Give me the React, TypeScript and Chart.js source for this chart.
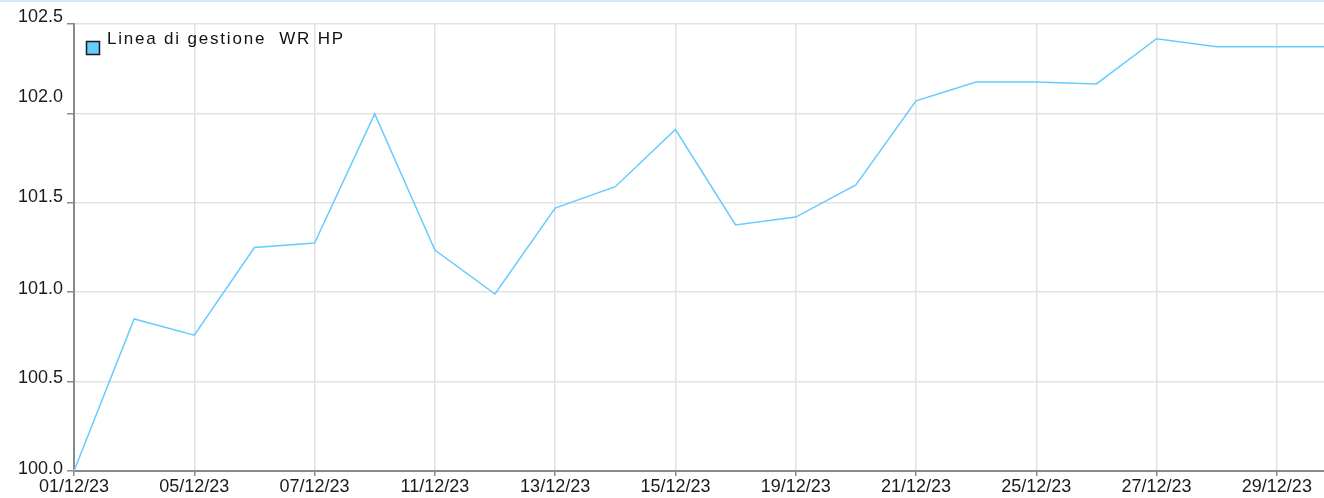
import React, { useEffect, useRef } from "react";
import { Chart, registerables } from "chart.js";

Chart.register(...registerables);

const dates = [
  "01/12/23", "04/12/23", "05/12/23", "06/12/23", "07/12/23", "08/12/23",
  "11/12/23", "12/12/23", "13/12/23", "14/12/23", "15/12/23", "18/12/23",
  "19/12/23", "20/12/23", "21/12/23", "22/12/23", "25/12/23", "26/12/23",
  "27/12/23", "28/12/23", "29/12/23", "31/12/23",
];

const values = [
  100.0, 100.85, 100.76, 101.25, 101.275, 101.997,
  101.236, 100.99, 101.47, 101.59, 101.91, 101.376,
  101.42, 101.6, 102.07, 102.175, 102.175, 102.165,
  102.418, 102.373, 102.373, 102.373,
];

const seriesName = "Linea di gestione  WR HP";
const yTicks = [100.0, 100.5, 101.0, 101.5, 102.0, 102.5];
const lineColor = "#66ccff";

// vertical nudge (px) of each y tick label above its grid line
const yLabelLift: Record<string, number> = {
  "100.0": 2, "100.5": 4, "101.0": 3, "101.5": 5.5, "102.0": 16, "102.5": 6.5,
};

const legendPlugin = {
  id: "customLegend",
  afterDraw(chart: any) {
    const ctx = chart.ctx;
    const area = chart.chartArea;
    ctx.save();
    const bx = area.left + 12.5;
    const by = area.top + 17.5;
    ctx.fillStyle = lineColor;
    ctx.fillRect(bx, by, 13, 13);
    ctx.strokeStyle = "#1a1a1a";
    ctx.lineWidth = 1.5;
    ctx.strokeRect(bx, by, 13, 13);
    ctx.fillStyle = "#111";
    ctx.font = "17px 'Liberation Sans', Arial, sans-serif";
    (ctx as any).letterSpacing = "1.8px";
    ctx.textBaseline = "alphabetic";
    ctx.textAlign = "left";
    ctx.fillText(seriesName, area.left + 33, area.top + 20);
    ctx.restore();
  },
};

export default function App() {
  const canvasRef = useRef<HTMLCanvasElement | null>(null);

  useEffect(() => {
    if (!canvasRef.current) return;
    const tickFont = "'Liberation Sans', Arial, sans-serif";
    const chart = new Chart(canvasRef.current, {
      type: "line",
      data: {
        labels: dates,
        datasets: [
          {
            label: seriesName,
            data: values,
            borderColor: lineColor,
            backgroundColor: lineColor,
            borderWidth: 1.5,
            pointRadius: 0,
            pointHoverRadius: 0,
            tension: 0,
            fill: false,
          },
        ],
      },
      options: {
        responsive: false,
        animation: false,
        events: [],
        layout: { padding: { top: 24, left: 0, right: 0, bottom: 0 } },
        plugins: {
          legend: { display: false },
          tooltip: { enabled: false },
          title: { display: false },
        },
        scales: {
          x: {
            type: "category",
            offset: false,
            border: { display: true, color: "#8a8a8a", width: 2 },
            grid: {
              color: "#e2e2e2",
              lineWidth: 1.5,
              tickColor: "#8a8a8a",
              tickLength: 5,
              drawTicks: true,
            },
            ticks: {
              autoSkip: false,
              maxRotation: 0,
              minRotation: 0,
              padding: 0,
              color: "#1a1a1a",
              font: { family: tickFont, size: 18, lineHeight: 1.2 },
              callback: (_v: any, i: number) => (i % 2 === 0 && i < 21 ? dates[i] : null),
            },
            afterFit: (scale: any) => {
              scale.height = 27;
            },
          },
          y: {
            min: 100,
            max: 102.5,
            border: { display: true, color: "#8a8a8a", width: 2 },
            grid: {
              color: "#e2e2e2",
              lineWidth: 1.5,
              tickColor: "#8a8a8a",
              tickLength: 7,
            },
            afterBuildTicks: (scale: any) => {
              scale.ticks = yTicks.map((v) => ({ value: v }));
            },
            ticks: {
              padding: 4,
              color: "#1a1a1a",
              font: (c: any) => {
                const v = c.tick ? Number(c.tick.value).toFixed(1) : "100.0";
                const lift = yLabelLift[v] ?? 0;
                return { family: tickFont, size: 18, lineHeight: `${Math.max(lift * 2, 1)}px` };
              },
              callback: (v: any) => [Number(v).toFixed(1), ""],
            },
            afterFit: (scale: any) => {
              scale.width = 74;
            },
          },
        },
      },
      plugins: [legendPlugin],
    });
    return () => chart.destroy();
  }, []);

  return (
    <div
      style={{
        position: "fixed",
        left: 0,
        top: 0,
        width: 1324,
        height: 498,
        overflow: "hidden",
        background: "#fff",
      }}
    >
      <canvas
        ref={canvasRef}
        width={1337}
        height={498}
        style={{ position: "absolute", left: 0, top: 0, width: 1337, height: 498 }}
      />
      <div
        style={{
          position: "absolute",
          left: 0,
          top: 0,
          width: 1324,
          height: 2,
          background: "#cde8f8",
        }}
      />
    </div>
  );
}
